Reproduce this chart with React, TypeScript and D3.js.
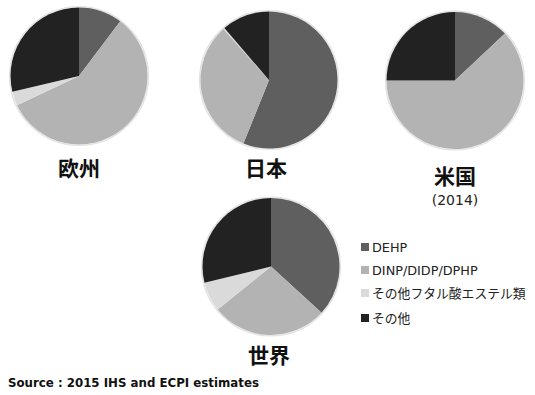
import React from "react";
import * as d3 from "d3";

const categories = ["DEHP", "DINP/DIDP/DPHP", "その他フタル酸エステル類", "その他"];
const colors = ["#5f5f5f", "#b3b3b3", "#dadada", "#222222"];
const regions = ["欧州", "日本", "米国", "世界"];
const europe = [10.3, 57.7, 3.3, 28.7];
const japan = [56.1, 32.3, 0.3, 11.3];
const usa = [13, 62, 0, 25];
const world = [36.8, 27.4, 7.0, 28.8];
const subLabels = ["", "", "(2014)", ""];
const sourceText = "Source : 2015 IHS and ECPI estimates";

const seriesList = [europe, japan, usa, world];
const centers = [
  [79, 76],
  [269, 80],
  [455, 80.5],
  [271, 266.5],
];
const labelY = [176, 176, 184, 363];
const R = 68.5;

export default function App() {
  const pie = d3.pie<number>().sort(null).value((d) => d);
  const arc = d3.arc<d3.PieArcDatum<number>>().innerRadius(0).outerRadius(R);
  const legendY = [247, 270, 293, 318];
  return (
    <svg width={535} height={395} style={{ position: "absolute", left: 0, top: 0 }}>
      <rect width={535} height={395} fill="#fff" />
      {seriesList.map((s, i) => (
        <g key={i} transform={`translate(${centers[i][0]},${centers[i][1]})`}>
          <circle r={R + 0.8} fill="none" stroke="#e4e4e4" strokeWidth={1.6} />
          {pie(s).map((a, j) => (
            <path key={j} d={arc(a) || ""} fill={colors[j]} />
          ))}
        </g>
      ))}
      {regions.map((r, i) => (
        <text
          key={r}
          x={centers[i][0] - (i === 3 ? 2 : 0) - (i === 1 ? 3 : 0)}
          y={labelY[i]}
          textAnchor="middle"
          fontFamily="'Noto Sans CJK JP'"
          fontWeight="bold"
          fontSize={21}
          fill="#111"
        >
          {r}
        </text>
      ))}
      {subLabels.map((t, i) =>
        t ? (
          <text
            key={i}
            x={centers[i][0]}
            y={205}
            textAnchor="middle"
            fontFamily="'DejaVu Sans'"
            fontSize={14}
            fill="#222"
          >
            {t}
          </text>
        ) : null
      )}
      {categories.map((c, j) => (
        <g key={c}>
          <rect x={361} y={legendY[j] - 4} width={8} height={8} fill={colors[j]} />
          <text
            x={372}
            y={legendY[j] + 4.5}
            fontFamily="'DejaVu Sans', 'Noto Sans CJK JP'"
            fontSize={12.8}
            fill="#222"
          >
            {c}
          </text>
        </g>
      ))}
      <text
        x={8}
        y={387}
        fontFamily="'DejaVu Sans'"
        fontWeight="bold"
        fontSize={11.8}
        fill="#111"
      >
        {sourceText}
      </text>
    </svg>
  );
}
